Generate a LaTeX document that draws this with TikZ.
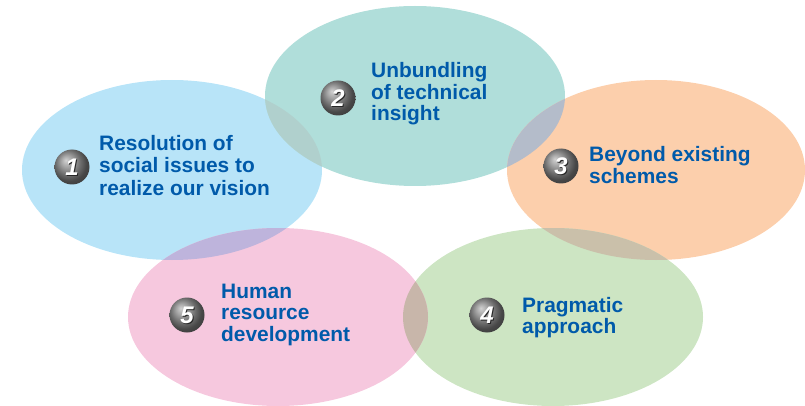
\documentclass[tikz,border=0pt]{standalone}
\usepackage{fontspec}
\setmainfont{Liberation Sans}
\definecolor{cblue}{HTML}{B8E4F8}
\definecolor{cteal}{HTML}{B0DEDA}
\definecolor{corange}{HTML}{FCCFAC}
\definecolor{cgreen}{HTML}{CDE5C3}
\definecolor{cpink}{HTML}{F6C8DE}
\definecolor{oBT}{HTML}{B0D0CD}
\definecolor{oTO}{HTML}{B4BCCA}
\definecolor{oOG}{HTML}{CAC0AA}
\definecolor{oGP}{HTML}{C8B6AA}
\definecolor{oPB}{HTML}{BEB4DC}
\definecolor{tblue}{HTML}{005AAA}
\pgfdeclareradialshading{badgeshade}{\pgfqpoint{-9bp}{10bp}}{color(0bp)=(black!18); color(8bp)=(black!35); color(18bp)=(black!58); color(25bp)=(black!72); color(50bp)=(black!88)}
\begin{document}
\begin{tikzpicture}[x=1pt,y=-1pt,
  lbl/.style={anchor=base west, inner sep=0pt, font=\fontsize{20.9}{22}\selectfont\bfseries, text=tblue},
  badge/.style={circle, minimum size=35pt, inner sep=0pt, shading=badgeshade},
  dig/.style={font=\fontsize{24}{24}\selectfont\bfseries\itshape, inner sep=0pt},
  ell/.style={x radius=150pt, y radius=90pt}
]
\useasboundingbox (0,0) rectangle (805,406);
\coordinate (c1) at (172,170);
\coordinate (c2) at (415,96);
\coordinate (c3) at (656,170);
\coordinate (c4) at (553,317);
\coordinate (c5) at (278,317);
% ellipses
\fill[cblue] (c1) ellipse [ell];
\fill[cteal] (c2) ellipse [ell];
\fill[corange] (c3) ellipse [ell, x radius=149pt];
\fill[cgreen] (c4) ellipse [ell, y radius=89pt];
\fill[cpink] (c5) ellipse [ell, y radius=89pt];
% overlaps
\begin{scope}\clip (c1) ellipse [ell]; \fill[oBT] (c2) ellipse [ell]; \end{scope}
\begin{scope}\clip (c2) ellipse [ell]; \fill[oTO] (c3) ellipse [ell, x radius=149pt]; \end{scope}
\begin{scope}\clip (c3) ellipse [ell, x radius=149pt]; \fill[oOG] (c4) ellipse [ell, y radius=89pt]; \end{scope}
\begin{scope}\clip (c4) ellipse [ell, y radius=89pt]; \fill[oGP] (c5) ellipse [ell, y radius=89pt]; \end{scope}
\begin{scope}\clip (c5) ellipse [ell, y radius=89pt]; \fill[oPB] (c1) ellipse [ell]; \end{scope}
% badges
\foreach \n/\x/\y in {1/72/167, 2/338/98, 3/561/166, 4/487/315, 5/187/315}{
  \node[badge] (b\n) at (\x,\y) {};
  \node[dig, text=black!85] (ds\n) at ([shift={(1,1)}]b\n) {\n};
  \node[dig, text=white] (d\n) at (b\n) {\n};
}
% labels
\node[lbl] (t1a) at (99,151) {Resolution of};
\node[lbl] (t1b) at (99,173) {social issues to};
\node[lbl] (t1c) at (99,195) {realize our vision};
\node[lbl] (t2a) at (371,77.5) {Unbundling};
\node[lbl] (t2b) at (371,99.5) {of technical};
\node[lbl] (t2c) at (371,121) {insight};
\node[lbl] (t3a) at (589,162) {Beyond existing};
\node[lbl] (t3b) at (589,183.5) {schemes};
\node[lbl] (t4a) at (522,312) {Pragmatic};
\node[lbl] (t4b) at (522,333) {approach};
\node[lbl] (t5a) at (221,298) {Human};
\node[lbl] (t5b) at (221,319.5) {resource};
\node[lbl] (t5c) at (221,341) {development};
\end{tikzpicture}
\end{document}
